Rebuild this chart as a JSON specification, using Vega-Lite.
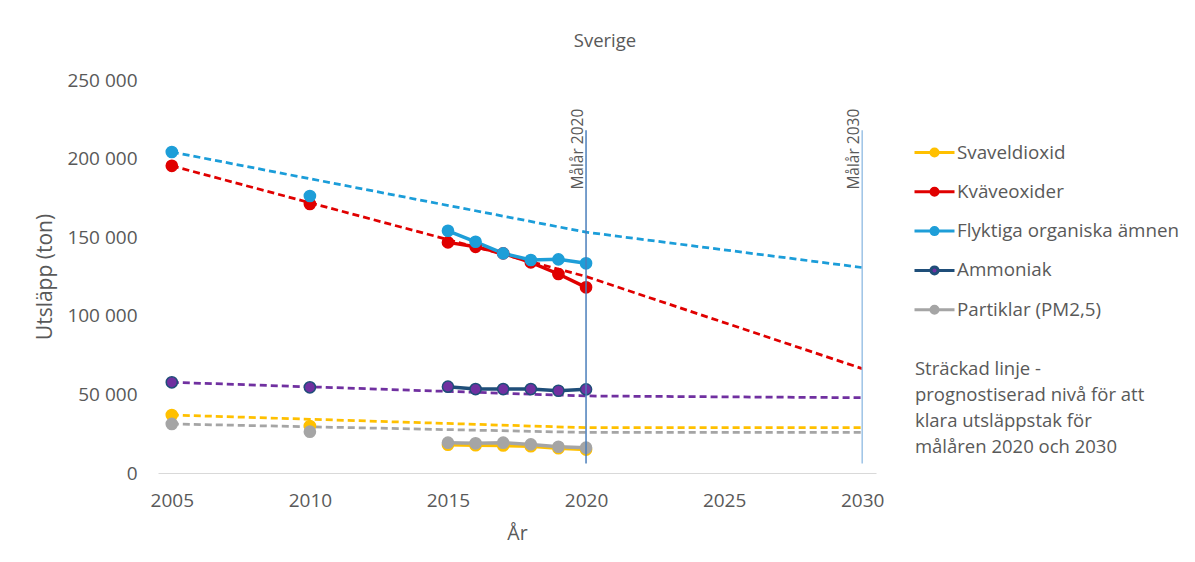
{
  "$schema": "https://vega.github.io/schema/vega-lite/v6.json",
  "width": 718,
  "height": 393,
  "autosize": "none",
  "padding": {"left": 158, "top": 80, "right": 319, "bottom": 89},
  "background": "white",
  "config": {"view": {"stroke": null}, "font": "Open Sans"},
  "title": {"text": "Sverige", "fontSize": 18.5, "fontWeight": "normal", "color": "#595959", "font": "Open Sans", "anchor": "middle", "frame": "group", "dx": 88, "offset": 21},
  "datasets": {
    "measured": [
      {"pollutant": "Svaveldioxid", "year": 2005, "value": 36900},
      {"pollutant": "Svaveldioxid", "year": 2010, "value": 29900},
      {"pollutant": "Svaveldioxid", "year": 2015, "value": 18000},
      {"pollutant": "Svaveldioxid", "year": 2016, "value": 17700},
      {"pollutant": "Svaveldioxid", "year": 2017, "value": 17500},
      {"pollutant": "Svaveldioxid", "year": 2018, "value": 17000},
      {"pollutant": "Svaveldioxid", "year": 2019, "value": 15800},
      {"pollutant": "Svaveldioxid", "year": 2020, "value": 14900},
      {"pollutant": "Kväveoxider", "year": 2005, "value": 195400},
      {"pollutant": "Kväveoxider", "year": 2010, "value": 171100},
      {"pollutant": "Kväveoxider", "year": 2015, "value": 146700},
      {"pollutant": "Kväveoxider", "year": 2016, "value": 143900},
      {"pollutant": "Kväveoxider", "year": 2017, "value": 139700},
      {"pollutant": "Kväveoxider", "year": 2018, "value": 134000},
      {"pollutant": "Kväveoxider", "year": 2019, "value": 126600},
      {"pollutant": "Kväveoxider", "year": 2020, "value": 118100},
      {"pollutant": "Flyktiga organiska ämnen", "year": 2005, "value": 204200},
      {"pollutant": "Flyktiga organiska ämnen", "year": 2010, "value": 176200},
      {"pollutant": "Flyktiga organiska ämnen", "year": 2015, "value": 154100},
      {"pollutant": "Flyktiga organiska ämnen", "year": 2016, "value": 147100},
      {"pollutant": "Flyktiga organiska ämnen", "year": 2017, "value": 139700},
      {"pollutant": "Flyktiga organiska ämnen", "year": 2018, "value": 135500},
      {"pollutant": "Flyktiga organiska ämnen", "year": 2019, "value": 135900},
      {"pollutant": "Flyktiga organiska ämnen", "year": 2020, "value": 133400},
      {"pollutant": "Ammoniak", "year": 2005, "value": 57700},
      {"pollutant": "Ammoniak", "year": 2010, "value": 54500},
      {"pollutant": "Ammoniak", "year": 2015, "value": 54900},
      {"pollutant": "Ammoniak", "year": 2016, "value": 53400},
      {"pollutant": "Ammoniak", "year": 2017, "value": 53400},
      {"pollutant": "Ammoniak", "year": 2018, "value": 53400},
      {"pollutant": "Ammoniak", "year": 2019, "value": 52300},
      {"pollutant": "Ammoniak", "year": 2020, "value": 53200},
      {"pollutant": "Partiklar (PM2,5)", "year": 2005, "value": 31200},
      {"pollutant": "Partiklar (PM2,5)", "year": 2010, "value": 26300},
      {"pollutant": "Partiklar (PM2,5)", "year": 2015, "value": 19300},
      {"pollutant": "Partiklar (PM2,5)", "year": 2016, "value": 18900},
      {"pollutant": "Partiklar (PM2,5)", "year": 2017, "value": 19300},
      {"pollutant": "Partiklar (PM2,5)", "year": 2018, "value": 18200},
      {"pollutant": "Partiklar (PM2,5)", "year": 2019, "value": 16700},
      {"pollutant": "Partiklar (PM2,5)", "year": 2020, "value": 16100}
    ],
    "trajectory": [
      {"pollutant": "Svaveldioxid", "year": 2005, "value": 36900},
      {"pollutant": "Svaveldioxid", "year": 2020, "value": 28800},
      {"pollutant": "Svaveldioxid", "year": 2030, "value": 28800},
      {"pollutant": "Kväveoxider", "year": 2005, "value": 195400},
      {"pollutant": "Kväveoxider", "year": 2020, "value": 125000},
      {"pollutant": "Kväveoxider", "year": 2030, "value": 66400},
      {"pollutant": "Flyktiga organiska ämnen", "year": 2005, "value": 204200},
      {"pollutant": "Flyktiga organiska ämnen", "year": 2020, "value": 153200},
      {"pollutant": "Flyktiga organiska ämnen", "year": 2030, "value": 130700},
      {"pollutant": "Ammoniak", "year": 2005, "value": 57700},
      {"pollutant": "Ammoniak", "year": 2020, "value": 49000},
      {"pollutant": "Ammoniak", "year": 2030, "value": 47900},
      {"pollutant": "Partiklar (PM2,5)", "year": 2005, "value": 31200},
      {"pollutant": "Partiklar (PM2,5)", "year": 2020, "value": 25800},
      {"pollutant": "Partiklar (PM2,5)", "year": 2030, "value": 25800}
    ],
    "targets": [
      {"year": 2020, "label": "Målår 2020"},
      {"year": 2030, "label": "Målår 2030"}
    ],
    "note": [
      {"text": "Sträckad linje -\nprognostiserad nivå för att\nklara utsläppstak för\nmålåren 2020 och 2030"}
    ]
  },
  "layer": [
    {
      "data": {"name": "trajectory"},
      "mark": {"type": "line", "strokeDash": [7, 4], "strokeWidth": 2.75},
      "encoding": {
        "x": {
          "field": "year", "type": "quantitative",
          "scale": {"domain": [2004.5, 2030.5], "nice": false, "zero": false},
          "axis": {"values": [2005, 2010, 2015, 2020, 2025, 2030], "format": "d", "title": "År", "grid": false, "ticks": false, "domainColor": "#d9d9d9", "domainWidth": 1, "labelPadding": 18, "labelFontSize": 19, "labelColor": "#595959", "labelFont": "Open Sans", "titleFont": "Open Sans", "titleFontSize": 19.5, "titleFontWeight": "normal", "titleColor": "#595959", "titlePadding": 14}
        },
        "y": {
          "field": "value", "type": "quantitative",
          "scale": {"domain": [0, 250000], "nice": false},
          "axis": {"values": [0, 50000, 100000, 150000, 200000, 250000], "labelExpr": "replace(format(datum.value, ','), ',', ' ')", "title": "Utsläpp (ton)", "grid": false, "ticks": false, "domain": false, "labelPadding": 21, "labelFontSize": 19, "labelColor": "#595959", "labelFont": "Open Sans", "titleFont": "Open Sans", "titleFontSize": 21, "titleFontWeight": "normal", "titleColor": "#595959", "titlePadding": 11}
        },
        "stroke": {"field": "pollutant", "type": "nominal",
          "scale": {"domain": ["Partiklar (PM2,5)", "Ammoniak", "Flyktiga organiska ämnen", "Kväveoxider", "Svaveldioxid"], "range": ["#A5A5A5", "#7030A0", "#1B9DD9", "#E00000", "#FFC000"]},
          "legend": null}
      }
    },
    {
      "data": {"name": "measured"},
      "transform": [{"filter": "datum.year >= 2015"}],
      "mark": {"type": "line", "strokeWidth": 3.5},
      "encoding": {
        "x": {"field": "year", "type": "quantitative"},
        "y": {"field": "value", "type": "quantitative"},
        "color": {"field": "pollutant", "type": "nominal", "title": null,
          "scale": {"domain": ["Svaveldioxid", "Kväveoxider", "Flyktiga organiska ämnen", "Ammoniak", "Partiklar (PM2,5)"], "range": ["#FFC000", "#E00000", "#1E9ED8", "#1F4E79", "#A5A5A5"]},
          "legend": {"orient": "none", "legendX": 765, "legendY": 61, "title": null,
            "symbolType": "M-2,0L-0.35,0M0.35,0L2,0M0.35,0A0.35,0.35,0,1,1,-0.35,0A0.35,0.35,0,1,1,0.35,0Z",
            "symbolSize": 400, "symbolStrokeWidth": 3, "symbolOpacity": 1, "labelFont": "Open Sans", "labelFontSize": 18.8, "labelColor": "#595959", "labelOffset": 11, "rowPadding": 17.3, "padding": 0, "labelLimit": 400,
            "encode": {"symbols": {"update": {"fill": {"scale": "fill", "field": "value"}}}}}}
      }
    },
    {
      "data": {"name": "measured"},
      "mark": {"type": "point", "shape": "circle", "filled": false, "size": 125, "strokeWidth": 1.5, "opacity": 1, "fillOpacity": 1},
      "encoding": {
        "x": {"field": "year", "type": "quantitative"},
        "y": {"field": "value", "type": "quantitative"},
        "color": {"field": "pollutant", "type": "nominal", "title": null},
        "fill": {"field": "pollutant", "type": "nominal", "title": null,
          "scale": {"domain": ["Svaveldioxid", "Kväveoxider", "Flyktiga organiska ämnen", "Ammoniak", "Partiklar (PM2,5)"], "range": ["#FFC000", "#E00000", "#1E9ED8", "#7030A0", "#A5A5A5"]},
          "legend": {"orient": "none", "legendX": 765, "legendY": 61, "title": null,
            "symbolType": "M-2,0L-0.35,0M0.35,0L2,0M0.35,0A0.35,0.35,0,1,1,-0.35,0A0.35,0.35,0,1,1,0.35,0Z",
            "symbolSize": 400, "symbolStrokeWidth": 3, "symbolOpacity": 1, "labelFont": "Open Sans", "labelFontSize": 18.8, "labelColor": "#595959", "labelOffset": 11, "rowPadding": 17.3, "padding": 0, "labelLimit": 400,
            "encode": {"symbols": {"update": {"fill": {"scale": "fill", "field": "value"}}}}}}
      }
    },
    {
      "data": {"name": "targets"},
      "mark": {"type": "rule", "strokeWidth": 1.5},
      "encoding": {
        "x": {"field": "year", "type": "quantitative"},
        "y": {"datum": 218000},
        "y2": {"datum": 6000},
        "stroke": {"condition": {"test": "datum.year == 2020", "value": "#4A7EBB"}, "value": "#9DC3E6"}
      }
    },
    {
      "data": {"name": "targets"},
      "mark": {"type": "text", "angle": 270, "align": "center", "baseline": "bottom", "fontSize": 15.5, "color": "#595959", "font": "Open Sans"},
      "encoding": {
        "x": {"field": "year", "type": "quantitative"},
        "y": {"datum": 206000},
        "text": {"field": "label"}
      }
    },
    {
      "data": {"name": "note"},
      "mark": {"type": "text", "align": "left", "baseline": "alphabetic", "fontSize": 18.5, "lineHeight": 26, "lineBreak": "\n", "color": "#595959", "font": "Open Sans"},
      "encoding": {
        "x": {"datum": 2031.91},
        "y": {"datum": 62340},
        "text": {"field": "text"}
      }
    }
  ]
}
